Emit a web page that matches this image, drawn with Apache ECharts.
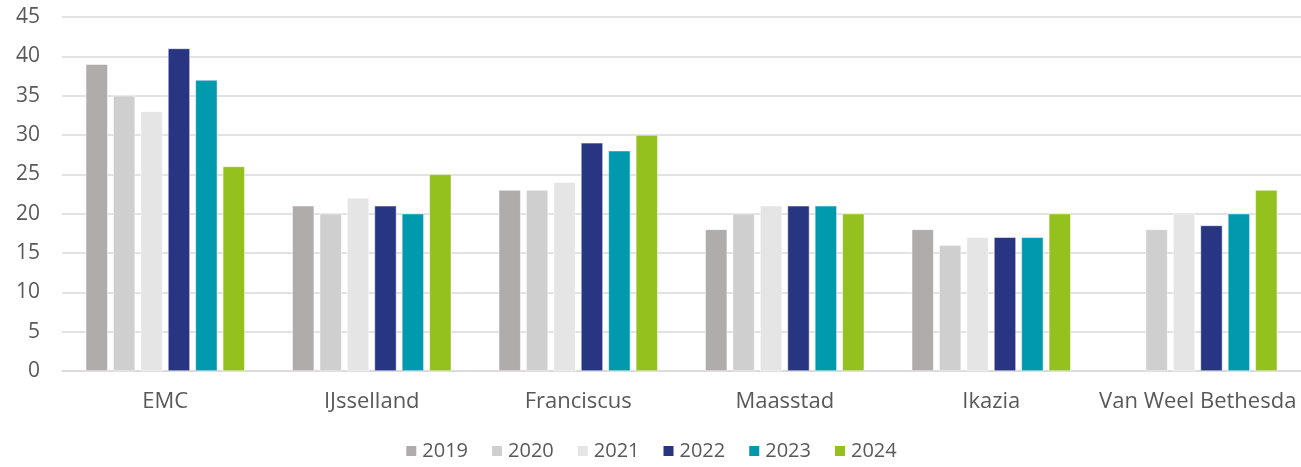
<!DOCTYPE html>
<html>
<head>
<meta charset="utf-8">
<script src="https://cdn.jsdelivr.net/npm/echarts@6/dist/echarts.min.js"></script>
<style>html,body{margin:0;padding:0;background:#fff;}#c{width:1301px;height:467px;}</style>
</head>
<body>
<div id="c"></div>
<script>
const categories = ['EMC', 'IJsselland', 'Franciscus', 'Maasstad', 'Ikazia', 'Van Weel Bethesda'];
const years = ['2019', '2020', '2021', '2022', '2023', '2024'];
const v2019 = [39, 21, 23, 18, 18, null];
const v2020 = [35, 20, 23, 20, 16, 18];
const v2021 = [33, 22, 24, 21, 17, 20];
const v2022 = [41, 21, 29, 21, 17, 18.5];
const v2023 = [37, 20, 28, 21, 17, 20];
const v2024 = [26, 25, 30, 20, 20, 23];
const colors = ['#AFACAB', '#D0CFCF', '#E5E5E5', '#283583', '#0099AE', '#95C11F'];
const values = [v2019, v2020, v2021, v2022, v2023, v2024];

const font = '"Open Sans", "Liberation Sans", Arial, sans-serif';
const chart = echarts.init(document.getElementById('c'), null, {renderer: 'canvas'});
chart.setOption({
  animation: false,
  color: colors,
  grid: {left: 62, right: 0, top: 17, bottom: 96, containLabel: false},
  legend: {
    bottom: 1, left: 'center',
    itemWidth: 12, itemHeight: 12, itemGap: 22,
    icon: 'rect',
    textStyle: {color: '#595959', fontSize: 20, fontFamily: font},
    data: years
  },
  xAxis: {
    type: 'category', data: categories,
    axisLine: {show: true, lineStyle: {color: '#D9D9D9', width: 1.5}},
    axisTick: {show: false},
    axisLabel: {color: '#595959', fontSize: 22, fontFamily: font, margin: 20, interval: 0}
  },
  yAxis: {
    type: 'value', min: 0, max: 45, interval: 5,
    axisLine: {show: false}, axisTick: {show: false},
    axisLabel: {color: '#595959', fontSize: 21, fontFamily: font, margin: 22},
    splitLine: {lineStyle: {color: '#D9D9D9', width: 1.5}}
  },
  series: years.map((y, i) => ({
    name: y, type: 'bar', data: values[i],
    barGap: '25%', barCategoryGap: '23%',
    itemStyle: {color: colors[i], borderColor: '#fff', borderWidth: 0.5}
  }))
});
</script>
</body>
</html>
